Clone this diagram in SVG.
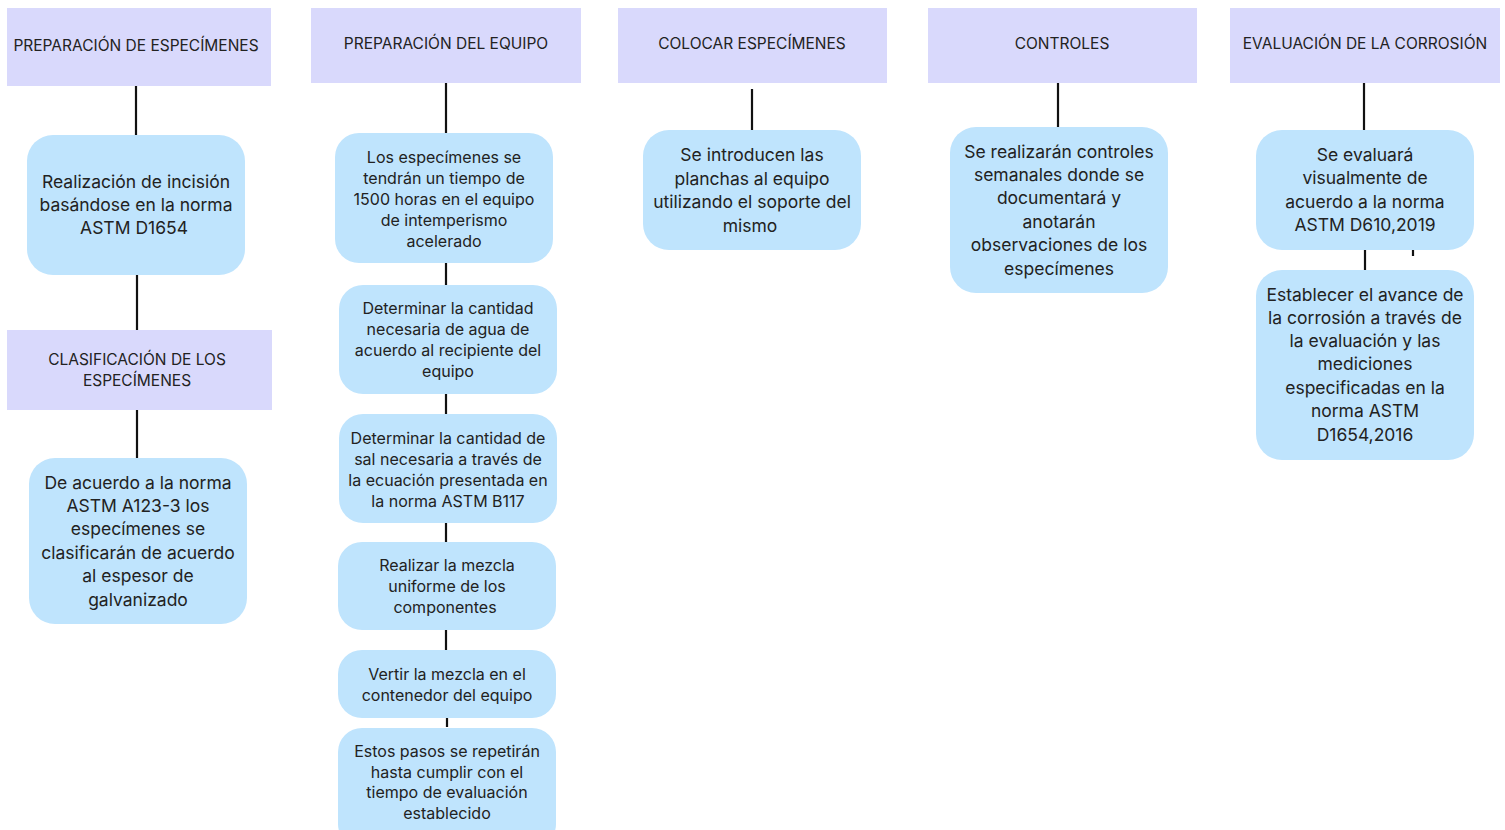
<svg xmlns="http://www.w3.org/2000/svg" width="1505" height="830" viewBox="0 0 1505 830">
<style>
.h{fill:#d9d9fc}
.b{fill:#bfe4fd}
.ht{font-family:Inter,"Liberation Sans",sans-serif;font-size:15.5px;fill:#222;text-anchor:middle}
.t{font-family:Inter,"Liberation Sans",sans-serif;font-size:17.5px;fill:#222;text-anchor:middle}
.s{font-family:Inter,"Liberation Sans",sans-serif;font-size:16px;fill:#222;text-anchor:middle}
.c line{stroke:#111;stroke-width:2.2}
</style>
<rect width="1505" height="830" fill="#fff"/>
<g class="c" id="connectors">
<line x1="136" y1="86" x2="136" y2="135"/>
<line x1="137" y1="275" x2="137" y2="330"/>
<line x1="137" y1="410" x2="137" y2="458"/>
<line x1="446" y1="83" x2="446" y2="133"/>
<line x1="446" y1="263" x2="446" y2="285"/>
<line x1="446" y1="394" x2="446" y2="414"/>
<line x1="446" y1="523" x2="446" y2="542"/>
<line x1="446" y1="630" x2="446" y2="650"/>
<line x1="447" y1="718" x2="447" y2="727"/>
<line x1="752" y1="89" x2="752" y2="130"/>
<line x1="1058" y1="83" x2="1058" y2="127"/>
<line x1="1364" y1="83" x2="1364" y2="130"/>
<line x1="1365" y1="250" x2="1365" y2="270"/>
<line x1="1413" y1="250" x2="1413" y2="256"/>
</g>
<g id="h1"><rect class="h" x="7" y="8" width="264" height="78"/><text class="ht" x="136" y="51">PREPARACIÓN DE ESPECÍMENES</text></g>
<g id="h2"><rect class="h" x="311" y="8" width="270" height="75"/><text class="ht" x="446" y="49">PREPARACIÓN DEL EQUIPO</text></g>
<g id="h3"><rect class="h" x="618" y="8" width="269" height="75"/><text class="ht" x="752" y="49">COLOCAR ESPECÍMENES</text></g>
<g id="h4"><rect class="h" x="928" y="8" width="269" height="75"/><text class="ht" x="1062" y="49">CONTROLES</text></g>
<g id="h5"><rect class="h" x="1230" y="8" width="270" height="75"/><text class="ht" x="1365" y="49">EVALUACIÓN DE LA CORROSIÓN</text></g>
<g id="h6"><rect class="h" x="7" y="330" width="265" height="80"/><text class="ht" x="137" y="365">CLASIFICACIÓN DE LOS</text><text class="ht" x="137" y="386">ESPECÍMENES</text></g>

<g id="n1"><rect class="b" x="27" y="135" width="218" height="140" rx="26"/>
<text class="t" x="136" y="188">Realización de incisión</text>
<text class="t" x="136" y="211">basándose en la norma</text>
<text class="t" x="134" y="234">ASTM D1654</text></g>
<g id="n2"><rect class="b" x="29" y="458" width="218" height="166" rx="26"/>
<text class="t" x="138" y="489">De acuerdo a la norma</text>
<text class="t" x="138" y="512">ASTM A123-3 los</text>
<text class="t" x="138" y="535">especímenes se</text>
<text class="t" x="138" y="559">clasificarán de acuerdo</text>
<text class="t" x="138" y="582">al espesor de</text>
<text class="t" x="138" y="606">galvanizado</text></g>

<g id="n3"><rect class="b" x="335" y="133" width="218" height="130" rx="24"/>
<text class="s" x="444" y="163">Los especímenes se</text>
<text class="s" x="444" y="184">tendrán un tiempo de</text>
<text class="s" x="444" y="205">1500 horas en el equipo</text>
<text class="s" x="444" y="226">de intemperismo</text>
<text class="s" x="444" y="247">acelerado</text></g>
<g id="n4"><rect class="b" x="339" y="285" width="218" height="109" rx="24"/>
<text class="s" x="448" y="314">Determinar la cantidad</text>
<text class="s" x="448" y="335">necesaria de agua de</text>
<text class="s" x="448" y="356">acuerdo al recipiente del</text>
<text class="s" x="448" y="377">equipo</text></g>
<g id="n5"><rect class="b" x="339" y="414" width="218" height="109" rx="24"/>
<text class="s" x="448" y="444">Determinar la cantidad de</text>
<text class="s" x="448" y="465">sal necesaria a través de</text>
<text class="s" x="448" y="486">la ecuación presentada en</text>
<text class="s" x="448" y="507">la norma ASTM B117</text></g>
<g id="n6"><rect class="b" x="338" y="542" width="218" height="88" rx="24"/>
<text class="s" x="447" y="571">Realizar la mezcla</text>
<text class="s" x="447" y="592">uniforme de los</text>
<text class="s" x="445" y="613">componentes</text></g>
<g id="n7"><rect class="b" x="338" y="650" width="218" height="68" rx="24"/>
<text class="s" x="447" y="680">Vertir la mezcla en el</text>
<text class="s" x="447" y="701">contenedor del equipo</text></g>
<g id="n8"><rect class="b" x="338" y="728" width="218" height="120" rx="24"/>
<text class="s" x="447" y="757">Estos pasos se repetirán</text>
<text class="s" x="447" y="778">hasta cumplir con el</text>
<text class="s" x="447" y="798">tiempo de evaluación</text>
<text class="s" x="447" y="819">establecido</text></g>

<g id="n9"><rect class="b" x="643" y="130" width="218" height="120" rx="26"/>
<text class="t" x="752" y="161">Se introducen las</text>
<text class="t" x="752" y="185">planchas al equipo</text>
<text class="t" x="752" y="208">utilizando el soporte del</text>
<text class="t" x="750" y="232">mismo</text></g>

<g id="n10"><rect class="b" x="950" y="127" width="218" height="166" rx="26"/>
<text class="t" x="1059" y="158">Se realizarán controles</text>
<text class="t" x="1059" y="181">semanales donde se</text>
<text class="t" x="1059" y="204">documentará y</text>
<text class="t" x="1059" y="228">anotarán</text>
<text class="t" x="1059" y="251">observaciones de los</text>
<text class="t" x="1059" y="275">especímenes</text></g>

<g id="n11"><rect class="b" x="1256" y="130" width="218" height="120" rx="26"/>
<text class="t" x="1365" y="161">Se evaluará</text>
<text class="t" x="1365" y="184">visualmente de</text>
<text class="t" x="1365" y="208">acuerdo a la norma</text>
<text class="t" x="1365" y="231">ASTM D610,2019</text></g>
<g id="n12"><rect class="b" x="1256" y="270" width="218" height="190" rx="26"/>
<text class="t" x="1365" y="301">Establecer el avance de</text>
<text class="t" x="1365" y="324">la corrosión a través de</text>
<text class="t" x="1365" y="347">la evaluación y las</text>
<text class="t" x="1365" y="370">mediciones</text>
<text class="t" x="1365" y="394">especificadas en la</text>
<text class="t" x="1365" y="417">norma ASTM</text>
<text class="t" x="1365" y="441">D1654,2016</text></g>
</svg>
